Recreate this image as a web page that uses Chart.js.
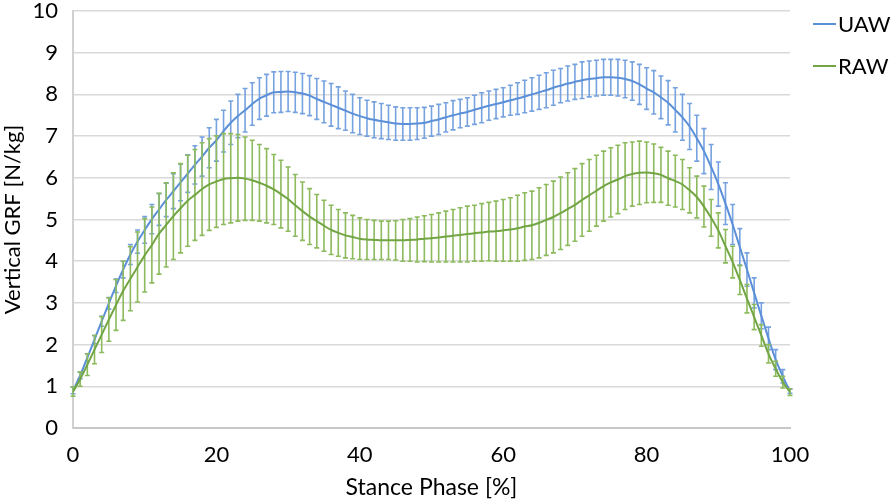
<!DOCTYPE html>
<html>
<head>
<meta charset="utf-8">
<title>Vertical GRF</title>
<script src="https://cdn.jsdelivr.net/npm/chart.js@4.4.0/dist/chart.umd.min.js"></script>
<style>
  html, body { margin: 0; padding: 0; background: #fff; }
</style>
</head>
<body>
<canvas id="grfChart" width="894" height="503"></canvas>
<script>
// stance phase in % (one sample per percent)
const stancePct = [
  0, 1, 2, 3, 4, 5, 6, 7, 8, 9,
  10, 11, 12, 13, 14, 15, 16, 17, 18, 19,
  20, 21, 22, 23, 24, 25, 26, 27, 28, 29,
  30, 31, 32, 33, 34, 35, 36, 37, 38, 39,
  40, 41, 42, 43, 44, 45, 46, 47, 48, 49,
  50, 51, 52, 53, 54, 55, 56, 57, 58, 59,
  60, 61, 62, 63, 64, 65, 66, 67, 68, 69,
  70, 71, 72, 73, 74, 75, 76, 77, 78, 79,
  80, 81, 82, 83, 84, 85, 86, 87, 88, 89,
  90, 91, 92, 93, 94, 95, 96, 97, 98, 99,
  100
];

// UAW mean and SD (N/kg)
const uawMean = [
  0.90, 1.26, 1.69, 2.12, 2.56, 2.99, 3.41, 3.80, 4.16, 4.47,
  4.75, 5.01, 5.24, 5.47, 5.68, 5.89, 6.10, 6.31, 6.51, 6.72,
  6.90, 7.12, 7.32, 7.48, 7.62, 7.77, 7.90, 7.98, 8.05, 8.06,
  8.07, 8.05, 8.02, 7.97, 7.89, 7.82, 7.75, 7.68, 7.61, 7.54,
  7.48, 7.43, 7.39, 7.36, 7.33, 7.30, 7.29, 7.29, 7.30, 7.32,
  7.36, 7.40, 7.45, 7.50, 7.54, 7.58, 7.63, 7.68, 7.73, 7.77,
  7.81, 7.86, 7.90, 7.95, 8.00, 8.05, 8.10, 8.16, 8.21, 8.26,
  8.30, 8.34, 8.37, 8.39, 8.41, 8.41, 8.40, 8.37, 8.32, 8.24,
  8.14, 8.05, 7.93, 7.80, 7.63, 7.45, 7.23, 6.95, 6.64, 6.26,
  5.85, 5.38, 4.88, 4.34, 3.80, 3.24, 2.69, 2.15, 1.64, 1.24,
  0.88
];
const uawSd = [
  0.08, 0.08, 0.09, 0.10, 0.12, 0.14, 0.16, 0.20, 0.24, 0.28,
  0.32, 0.35, 0.38, 0.40, 0.42, 0.44, 0.45, 0.46, 0.47, 0.48,
  0.50, 0.50, 0.52, 0.52, 0.52, 0.51, 0.50, 0.50, 0.49, 0.49,
  0.48, 0.48, 0.48, 0.48, 0.49, 0.50, 0.51, 0.50, 0.47, 0.46,
  0.44, 0.43, 0.43, 0.42, 0.41, 0.40, 0.39, 0.39, 0.38, 0.37,
  0.36, 0.36, 0.35, 0.35, 0.34, 0.34, 0.35, 0.36, 0.35, 0.35,
  0.35, 0.36, 0.38, 0.39, 0.40, 0.41, 0.42, 0.42, 0.41, 0.42,
  0.42, 0.44, 0.43, 0.43, 0.43, 0.43, 0.44, 0.45, 0.46, 0.48,
  0.50, 0.52, 0.51, 0.53, 0.53, 0.55, 0.55, 0.55, 0.54, 0.54,
  0.53, 0.50, 0.48, 0.44, 0.40, 0.36, 0.31, 0.27, 0.24, 0.16,
  0.05
];

// RAW mean and SD (N/kg)
const rawMean = [
  0.87, 1.17, 1.52, 1.88, 2.24, 2.60, 2.95, 3.29, 3.58, 3.86,
  4.14, 4.39, 4.66, 4.87, 5.08, 5.27, 5.45, 5.59, 5.73, 5.84,
  5.91, 5.97, 5.99, 6.00, 5.98, 5.94, 5.88, 5.81, 5.72, 5.61,
  5.49, 5.34, 5.20, 5.07, 4.96, 4.85, 4.75, 4.68, 4.62, 4.58,
  4.54, 4.52, 4.51, 4.50, 4.50, 4.50, 4.50, 4.51, 4.52, 4.54,
  4.55, 4.57, 4.59, 4.61, 4.63, 4.65, 4.67, 4.69, 4.71, 4.72,
  4.74, 4.76, 4.79, 4.83, 4.86, 4.92, 4.99, 5.06, 5.15, 5.25,
  5.35, 5.47, 5.58, 5.69, 5.80, 5.89, 5.96, 6.04, 6.09, 6.12,
  6.13, 6.11, 6.07, 5.99, 5.92, 5.84, 5.70, 5.54, 5.31, 5.04,
  4.74, 4.36, 3.98, 3.55, 3.10, 2.66, 2.22, 1.78, 1.42, 1.10,
  0.86
];
const rawSd = [
  0.11, 0.17, 0.26, 0.34, 0.43, 0.52, 0.61, 0.71, 0.77, 0.84,
  0.88, 0.91, 0.97, 1.01, 1.04, 1.07, 1.09, 1.09, 1.11, 1.10,
  1.10, 1.09, 1.07, 1.04, 1.00, 0.96, 0.92, 0.89, 0.84, 0.81,
  0.77, 0.74, 0.70, 0.67, 0.64, 0.61, 0.59, 0.56, 0.54, 0.52,
  0.50, 0.48, 0.47, 0.46, 0.46, 0.47, 0.50, 0.51, 0.54, 0.55,
  0.57, 0.59, 0.61, 0.63, 0.65, 0.67, 0.67, 0.69, 0.70, 0.72,
  0.74, 0.76, 0.79, 0.81, 0.82, 0.84, 0.85, 0.86, 0.87, 0.87,
  0.87, 0.87, 0.86, 0.85, 0.84, 0.83, 0.82, 0.80, 0.77, 0.76,
  0.73, 0.70, 0.66, 0.65, 0.62, 0.60, 0.54, 0.50, 0.49, 0.44,
  0.42, 0.40, 0.38, 0.35, 0.34, 0.30, 0.26, 0.22, 0.18, 0.14,
  0.08
];

const xTicks = [0, 20, 40, 60, 80, 100];
const yTicks = [0, 1, 2, 3, 4, 5, 6, 7, 8, 9, 10];

const FONT = 'Lato, "Open Sans", sans-serif';

function points(mean) {
  return stancePct.map((p, i) => ({ x: p, y: mean[i] }));
}

// error bars (mean +/- SD), drawn under each series' line
const errorBars = {
  id: 'errorBars',
  beforeDatasetDraw(chart, args) {
    const ds = chart.data.datasets[args.index];
    if (!ds.sd) return;
    const yScale = chart.scales.y;
    const ctx = chart.ctx;
    ctx.save();
    ctx.strokeStyle = ds.errorColor;
    ctx.lineWidth = 1.6;
    args.meta.data.forEach((pt, i) => {
      const v = ds.data[i].y;
      const top = yScale.getPixelForValue(v + ds.sd[i]);
      const bot = yScale.getPixelForValue(v - ds.sd[i]);
      ctx.beginPath();
      ctx.moveTo(pt.x, top); ctx.lineTo(pt.x, bot);
      ctx.moveTo(pt.x - 2.5, top); ctx.lineTo(pt.x + 2.5, top);
      ctx.moveTo(pt.x - 2.5, bot); ctx.lineTo(pt.x + 2.5, bot);
      ctx.stroke();
    });
    ctx.restore();
  }
};

// simple legend to the right of the plot
const sideLegend = {
  id: 'sideLegend',
  afterDraw(chart) {
    const ctx = chart.ctx;
    const x0 = chart.chartArea.right + 23;
    ctx.save();
    ctx.font = '22px ' + FONT;
    ctx.textBaseline = 'middle';
    chart.data.datasets.forEach((ds, i) => {
      const yy = 24 + i * 42;
      ctx.strokeStyle = ds.borderColor;
      ctx.lineWidth = 2;
      ctx.beginPath();
      ctx.moveTo(x0, yy);
      ctx.lineTo(x0 + 23, yy);
      ctx.stroke();
      ctx.fillStyle = '#000';
      ctx.fillText(ds.label, x0 + 25, yy + 1);
    });
    ctx.restore();
  }
};

const ctx = document.getElementById('grfChart').getContext('2d');
new Chart(ctx, {
  type: 'line',
  data: {
    datasets: [
      {
        label: 'UAW',
        data: points(uawMean),
        sd: uawSd,
        borderColor: '#5b8fd8',
        errorColor: '#76a2e0',
        borderWidth: 2,
        pointRadius: 0,
        cubicInterpolationMode: 'monotone',
        order: 1
      },
      {
        label: 'RAW',
        data: points(rawMean),
        sd: rawSd,
        borderColor: '#72a544',
        errorColor: '#8cba5c',
        borderWidth: 2,
        pointRadius: 0,
        cubicInterpolationMode: 'monotone',
        order: 0
      }
    ]
  },
  options: {
    responsive: false,
    animation: false,
    layout: { padding: { top: 0, right: 104 } },
    plugins: { legend: { display: false }, tooltip: { enabled: false } },
    scales: {
      x: {
        type: 'linear',
        min: 0,
        max: 100,
        afterBuildTicks(scale) { scale.ticks = xTicks.map(v => ({ value: v })); },
        afterFit(scale) { scale.height = 75; },
        ticks: { color: '#000', font: { family: FONT, size: 22, lineHeight: 1 }, padding: 8, maxRotation: 0 },
        grid: { display: false },
        border: { display: true, color: '#c8c8c8', width: 2 },
        title: {
          display: true,
          text: 'Stance Phase [%]',
          color: '#000',
          font: { family: FONT, size: 23 },
          padding: { top: 0, bottom: 2 }
        }
      },
      y: {
        min: 0,
        max: 10,
        afterBuildTicks(scale) { scale.ticks = yTicks.map(v => ({ value: v })); },
        afterFit(scale) {
          scale.width = 73;
          scale.paddingTop = 11;
          scale.paddingBottom = 0;
        },
        ticks: { color: '#000', font: { family: FONT, size: 22, lineHeight: 1 }, padding: 15 },
        grid: { color: '#d9d9d9', lineWidth: 1.5, drawTicks: false },
        border: { display: true, color: '#d0d0d0', width: 2 },
        title: {
          display: true,
          text: 'Vertical GRF [N/kg]',
          color: '#000',
          font: { family: FONT, size: 22 },
          padding: 0
        }
      }
    }
  },
  plugins: [errorBars, sideLegend]
});
</script>
</body>
</html>
